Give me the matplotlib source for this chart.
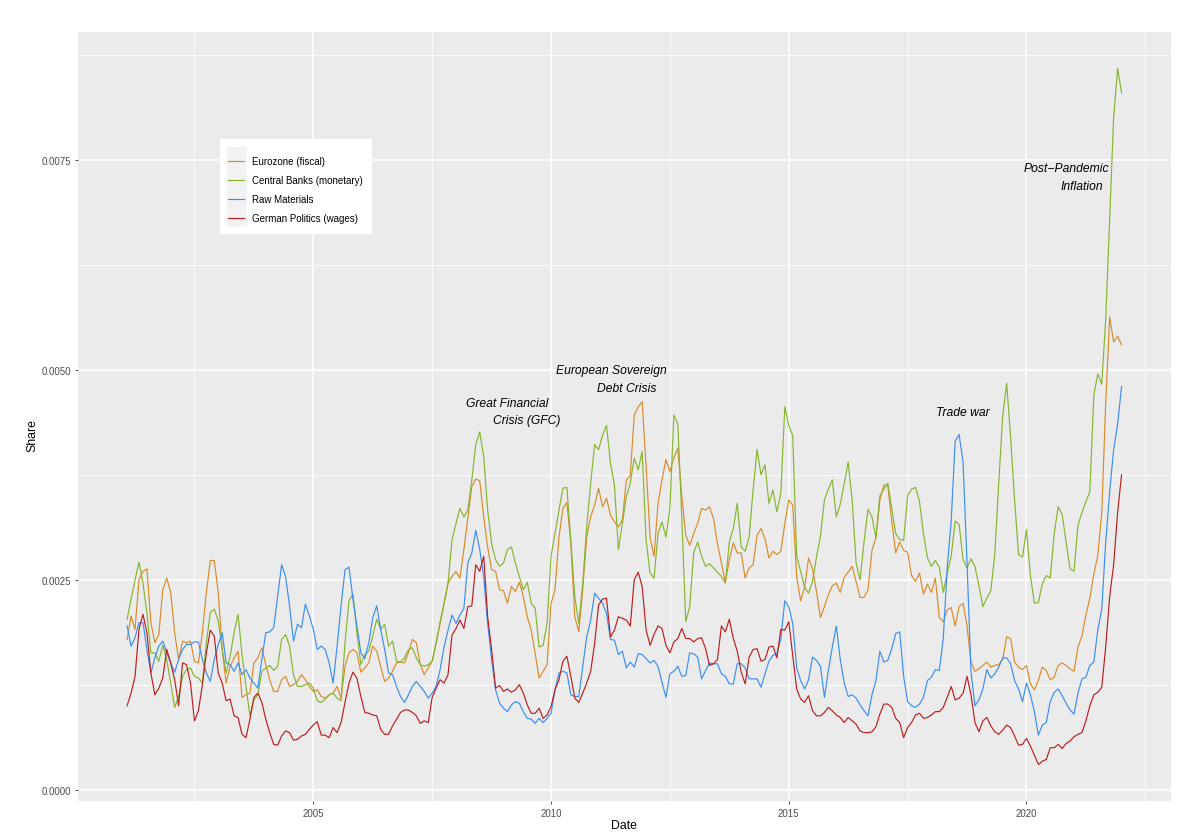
import numpy as np
import matplotlib
matplotlib.use("Agg")
import matplotlib.pyplot as plt
from matplotlib.patches import Rectangle
from matplotlib.ticker import FixedLocator

plt.rcParams['font.family'] = ['Liberation Sans', 'DejaVu Sans']

# monthly topic shares, in units of 1e-4, Feb 2001 .. Jan 2022
eurozone = [17.9, 20.7, 19.1, 25, 26, 26.3, 19.9, 17.5, 18.5, 23.8, 25.2, 23.5, 18.7, 15.5, 17.7, 17.5, 17.7, 15.3, 15.1, 18.7, 23.5, 27.3, 27.3, 23.5, 16.7, 12.7, 14.7, 15.7, 16.5, 11, 11.3, 11.5, 15.1, 15.7, 16.9, 14.9, 13.1, 11.7, 11.7, 13.1, 13.5, 12.3, 12.5, 12.9,
            13.7, 13.1, 12.3, 11.7, 11.9, 11.1, 10.9, 11.3, 11.5, 12.3, 10.9, 14.7, 16.3, 16.7, 16.3, 14, 14.5, 15.1, 17.1, 16.5, 14.7, 12.9, 13.3, 14.1, 15.1, 15.2, 15.1, 16.3, 17.9, 17.5, 14.9, 13.7, 14.5, 15.3, 17.5, 19.9,
            22.2, 24.6, 25.4, 26, 25.2, 28.6, 32.3, 36.1, 37, 36.8, 32.5, 28.9, 26.2, 26, 23.8, 23.7, 22.2, 24.2, 23.6, 24.7, 23, 20.6, 19, 16.2, 13.3, 14.1, 14.9, 22.2, 23.8, 30.1, 33.5, 34.2, 29.3, 20.6, 18.8, 23.8, 30.1, 32.5, 33.9, 35.9, 33.7, 34.7, 32.7, 31.9, 31.3,
            32.1, 36.9, 37.4, 44.6, 45.6, 46.2, 38.5, 30.1, 27.8, 34.1, 36.9, 39.3, 37.9, 39.5, 40.7, 35, 30.3, 29.1, 30.5, 31.7, 33.5, 33.3, 33.7, 32.3, 29.3, 27, 24.7, 27.4, 29.4, 28.2, 28.2, 25.2, 26.4, 26.8, 30.3, 31.1, 29.9, 27.6, 28.4, 28, 28.4, 31.7, 34.5, 33.9, 25.4,
            22.5, 24.1, 27.6, 26.3, 23.6, 20.5, 21.8, 23.2, 24.3, 24.6, 23.5, 25.3, 25.9, 26.6, 24.8, 22.9, 22.9, 23.8, 28.5, 30, 34.5, 36.3, 36.2, 32, 28.2, 29.5, 28.5, 28.3, 25.5, 24.8, 25.8, 23.3, 24.5, 23.5, 25.2, 20.5, 20, 21.4, 21.7, 19.5, 21.8,
            22.2, 19.5, 15.2, 14.1, 14.4, 14.8, 15.2, 14.6, 14.8, 14.9, 15.5, 18.2, 18, 15.2, 14.6, 14.3, 14.8, 12.6, 11.9, 13, 14.6, 14.2, 13.1, 13.4, 14.8, 15.1, 14.8, 14.4, 14.1, 17, 18.3, 20.8, 22.8, 25.7, 27.9, 33, 46, 56.3, 53.3, 54, 53]

central_banks = [20.3, 22.7, 25, 27.1, 24.6, 21.1, 16.3, 16.3, 15.3, 17.2, 15.5, 12.7, 9.8, 11.1, 13.5, 14.3, 14.5, 13.5, 13.3, 12.7, 17.5, 21.1, 21.5, 20.1, 16.7, 13.9, 15.9, 18.7, 20.9, 16.1, 12.3, 8.8, 10.7, 11.3, 14.1, 14.5, 14.8, 14.2, 14.7, 17.9, 18.5, 17.1, 13.7, 12.3,
                 12.3, 12.5, 12.7, 12.1, 10.6, 10.4, 10.8, 11.3, 11.5, 10.9, 10.6, 17.5, 22.5, 23.3, 18.7, 14.9, 16.1, 16.5, 18.3, 20.3, 19.1, 19.7, 17.1, 17.7, 15.3, 15.2, 15.7, 16.7, 16.9, 15.7, 14.9, 14.7, 14.9, 15.3, 17.5, 19.9,
                 22.2, 24.6, 29.7, 31.7, 33.5, 32.5, 33.3, 36.9, 41.1, 42.6, 39.7, 33.3, 29.3, 27.4, 26.6, 27, 28.6, 28.9, 27, 25.4, 23.8, 24.7, 22.2, 21.6, 17, 17.2, 19.8, 27.8, 30.5, 33.3, 35.9, 36, 29.7, 23, 19.8, 24.6, 31.3, 36.5, 41.1, 40.5, 42.2, 43.4, 38.9, 36.3, 28.6,
                 31.7, 34.9, 36.5, 39.5, 38.1, 40.3, 29.7, 25.8, 25.2, 30.5, 31.9, 30.1, 33.5, 44.6, 43.6, 32.5, 20, 21.8, 28.2, 29.5, 27.8, 26.6, 26.9, 26.4, 25.9, 25.4, 24.6, 29.5, 31.1, 34.1, 28.9, 28.4, 30.1, 35.7, 40.5, 37.5, 38.7, 34.1, 35.7, 33.1, 35.3, 45.6, 43.4, 42.2, 27.8,
                 26, 24.1, 23.4, 24.8, 27.7, 30.2, 34.5, 35.8, 36.9, 32.5, 34, 36.4, 39, 34.5, 27, 25, 29.5, 33.4, 32.5, 30, 35, 35.8, 36.5, 33.5, 30.5, 29.8, 29.7, 35, 35.8, 36, 34.3, 30.5, 27.6, 26.6, 27.3, 26.5, 23.5, 25.8, 27.8, 32, 31.6,
                 27.4, 26.4, 27.5, 26.6, 24.3, 21.8, 22.8, 23.7, 28, 36.5, 44.5, 48.4, 42, 34.5, 28, 27.7, 31, 25.5, 22.2, 22.3, 24.5, 25.5, 25.2, 30.5, 33.7, 32.8, 29.5, 26.3, 26, 31.5, 33, 34.3, 35.5, 47, 49.5, 48.3, 56, 67.9, 80, 85.9, 83]

raw_materials = [19.5, 17.1, 18.1, 19.9, 19.9, 16.7, 13.9, 15.7, 17.1, 17.7, 16.3, 15.1, 14, 15.5, 16.7, 17.3, 17.3, 17.6, 17.6, 15.5, 13.9, 12.9, 15.5, 17.3, 18.7, 15.1, 14.9, 14.1, 15.1, 13.7, 14.3, 13.3, 12.7, 12.1, 15.5, 18.7, 18.8, 19.3, 23.1, 26.8, 25.4, 21.9, 17.7, 19.7,
                 19.3, 22.1, 20.7, 19.1, 16.7, 17.1, 16.7, 15.1, 12.7, 17.1, 21.9, 26.2, 26.5, 22.7, 19.5, 16.3, 15.6, 17.5, 20.5, 21.9, 19.1, 16.7, 13.9, 13.7, 12.3, 11.1, 10.4, 11.3, 12.3, 12.9, 12.3, 11.7, 10.9, 11.5, 12.3, 14.3,
                 17, 19, 20.8, 19.8, 20.8, 21.6, 27, 28.2, 30.9, 28.6, 25.4, 19.8, 15.5, 11.9, 10.3, 9.7, 9.3, 10.1, 10.5, 10.3, 9.3, 8.5, 8.4, 7.9, 8.5, 8, 8.5, 9.1, 11.9, 13.9, 14.1, 13.9, 11.3, 11.1, 11.1, 14.7, 18.2, 20.2, 23.4, 22.8, 22.2, 21, 17.9, 17.8, 16.1,
                 16.5, 14.5, 15.2, 14.6, 16.2, 16.1, 15.6, 15.1, 15.4, 14.7, 12.8, 11, 13.8, 14.1, 14.7, 13.5, 13.6, 16.3, 16.2, 15.8, 13.2, 14.2, 15.1, 15, 15, 13.8, 13.5, 12.6, 12.6, 15, 15, 14.5, 13.2, 13.2, 13.2, 12.2, 13.8, 15.3, 16, 16.2, 18, 22.5, 21.8, 19.8, 14.5,
                 13, 12, 13.1, 15.8, 15.4, 14.7, 11, 14.2, 17, 19.5, 15.5, 12.7, 11.1, 11.3, 10.9, 10.1, 9.4, 8.8, 11.3, 13, 16.5, 15.2, 15.4, 16.8, 18.6, 18.8, 13.5, 10.5, 10, 9.8, 10.2, 11, 13, 13.4, 14.3, 14.2, 18, 26.5, 32, 41.5, 42.3,
                 39, 27, 14, 10, 10.7, 12, 14.3, 13.3, 13.8, 14.6, 15.7, 15.7, 15, 13, 12, 10.5, 12.7, 11.3, 9.3, 6.5, 7.7, 8, 10.5, 11.6, 12, 11.2, 10.3, 9.5, 9, 11.5, 13.2, 13.4, 14.8, 15.2, 19, 21.5, 29.5, 35.5, 40.5, 43.5, 48]

german_politics = [10, 11.5, 13.5, 19.1, 20.9, 18.7, 13.9, 11.3, 12.1, 13.3, 16.7, 15.1, 13.1, 10, 15.1, 14.9, 12.7, 8.2, 9.4, 12.5, 16.3, 19, 18.3, 13.9, 12.7, 10.6, 10.8, 8.8, 8.6, 6.6, 6.2, 8.4, 11, 11.5, 10.4, 8.4, 6.8, 5.4, 5.3, 6.4, 7, 6.8, 5.9, 6,
                   6.4, 6.6, 7.2, 7.7, 8.1, 6.5, 6.5, 6.2, 7.4, 6.8, 8, 10.4, 12.7, 14, 13.3, 11.1, 9.2, 9.1, 8.9, 8.8, 7.2, 6.6, 6.6, 7.6, 8.4, 9.2, 9.5, 9.5, 9.2, 8.8, 7.9, 8.2, 8, 11, 12.1, 13.1,
                   12.7, 13.7, 18.4, 19.2, 20.2, 19.2, 21.8, 21.9, 26.8, 26, 27.8, 20.6, 16.7, 12.1, 12.4, 11.7, 12, 11.6, 11.9, 12.5, 11.5, 10.1, 9.1, 9.1, 9.7, 8.5, 8.9, 9.9, 11.9, 13.1, 15.3, 15.9, 13.5, 10.9, 10.4, 11.5, 12.7, 14.1, 17.4, 22, 22.7, 22.8, 18.2, 19, 20.6,
                   20.4, 20.2, 19.5, 25, 25.9, 24.2, 19, 17.2, 18.5, 19.5, 19.2, 17.2, 16.3, 17.6, 18, 19.2, 18, 18, 17.6, 18, 18.1, 16.8, 14.8, 15, 15.5, 19.5, 18.8, 20.3, 18, 16.5, 14, 12.6, 15.8, 16.7, 16.8, 15.3, 15.5, 17, 17.1, 15.7, 19.1, 19, 20, 16, 12,
                   10.8, 10.4, 11.2, 9.4, 8.8, 8.8, 9.2, 9.8, 9.4, 8.9, 8.6, 8, 8.6, 8.2, 7.8, 7, 6.8, 6.8, 6.9, 7.5, 9, 10.2, 10.2, 9.8, 8.5, 8, 6.2, 7.4, 8, 8.9, 9.1, 8.5, 8.6, 8.9, 9.3, 9.3, 9.8, 11, 12.3, 10.7, 10.9,
                   11.5, 13.5, 11.3, 8, 6.9, 8.2, 8.6, 7.6, 6.9, 6.6, 7.1, 7.7, 7.4, 6.4, 5.3, 5.4, 6.1, 5.2, 4.1, 3, 3.4, 3.6, 5, 5, 5.4, 4.9, 5.5, 5.8, 6.3, 6.6, 6.8, 8.2, 10, 11.3, 11.6, 12.2, 17, 23, 26.8, 33, 37.5]

labels = ['Eurozone (fiscal)', 'Central Banks (monetary)', 'Raw Materials', 'German Politics (wages)']
colors = ['#D98B2B', '#86B52F', '#3B8EF2', '#BC1F1F']

year_ticks = [2005, 2010, 2015, 2020]
share_ticks = [0.0, 0.0025, 0.005, 0.0075]
share_tick_labels = ['0.0000', '0.0025', '0.0050', '0.0075']

# annotations: (first line, second line, x of line 1, y of line 1, x of line 2, y of line 2)
notes = [('Great Financial', 'Crisis (GFC)', 2008.21, 0.004607, 2008.78, 0.0044),
         ('European Sovereign', 'Debt Crisis', 2010.10, 0.004996, 2010.96, 0.004786),
         ('Trade war', None, 2018.10, 0.004503, None, None),
         ('Post\u2212Pandemic', 'Inflation', 2019.95, 0.0074, 2020.72, 0.007194)]

series = [eurozone, central_banks, raw_materials, german_politics]
n = len(eurozone)
dates = 2001 + (np.arange(n) + 1) / 12  # decimal years, monthly

W, H = 1200, 837
fig = plt.figure(figsize=(W / 100, H / 100), dpi=100, facecolor='white')
ax = fig.add_axes([77.7 / W, 1 - 802.3 / H, (1171 - 77.7) / W, (802.3 - 33.3) / H])
ax.set_facecolor('#EBEBEB')

for vals, col in zip(series, colors):
    ax.plot(dates, np.array(vals) * 1e-4, color=col, lw=0.85, zorder=3)

ax.set_xlim(2000.044, 2023.04)
ax.set_ylim(-0.000138, 0.00902)
ax.xaxis.set_major_locator(FixedLocator(year_ticks))
ax.xaxis.set_minor_locator(FixedLocator([2002.5, 2007.5, 2012.5, 2017.5, 2022.5]))
ax.yaxis.set_major_locator(FixedLocator(share_ticks))
ax.yaxis.set_minor_locator(FixedLocator([0.00125, 0.00375, 0.00625, 0.00875]))
ax.set_xticklabels([str(y) for y in year_ticks])
ax.set_yticklabels(share_tick_labels)
ax.grid(which='major', color='white', lw=1.1)
ax.grid(which='minor', color='white', lw=0.55)
ax.set_axisbelow(True)
for s in ax.spines.values():
    s.set_visible(False)
ax.tick_params(which='major', length=2.2, width=0.6, color='#333333',
               labelsize=7, labelcolor='#4D4D4D', pad=2.5)
ax.tick_params(which='minor', length=0)

fig.text(32 / W, 1 - 436 / H, 'Share', rotation=90, ha='center', va='center', fontsize=8.8)
fig.text(624 / W, 1 - 826 / H, 'Date', ha='center', va='center', fontsize=8.8)

for l1, l2, x1, y1, x2, y2 in notes:
    ax.text(x1, y1, l1, style='italic', fontsize=8.7, ha='left', va='center', zorder=4)
    if l2:
        ax.text(x2, y2, l2, style='italic', fontsize=8.7, ha='left', va='center', zorder=4)


# legend drawn by hand so the grey key column can be shown
def px(x, y):
    return ((x - 77.7) / (1171 - 77.7), (802.3 - y) / (802.3 - 33.3))


x0, y0 = px(220, 235)
x1, y1 = px(371.7, 140)
ax.add_patch(Rectangle((x0, y0), x1 - x0, y1 - y0, transform=ax.transAxes,
                       facecolor='white', edgecolor='none', zorder=5))
kx0, ky0 = px(226.7, 228.3)
kx1, ky1 = px(246.7, 148.3)
ax.add_patch(Rectangle((kx0, ky0), kx1 - kx0, ky1 - ky0, transform=ax.transAxes,
                       facecolor='#F2F2F2', edgecolor='none', zorder=6))
for i, (lab, col) in enumerate(zip(labels, colors)):
    ly = 161.7 + i * 19.1
    a, b = px(228.3, ly)
    c, _ = px(244.3, ly)
    ax.plot([a, c], [b, b], transform=ax.transAxes, color=col, lw=0.85, zorder=7)
    tx, _ = px(252.3, ly)
    ax.text(tx, b, lab, transform=ax.transAxes, fontsize=7, va='center', ha='left', zorder=7)

fig.savefig('out.png', dpi=100, facecolor='white')
